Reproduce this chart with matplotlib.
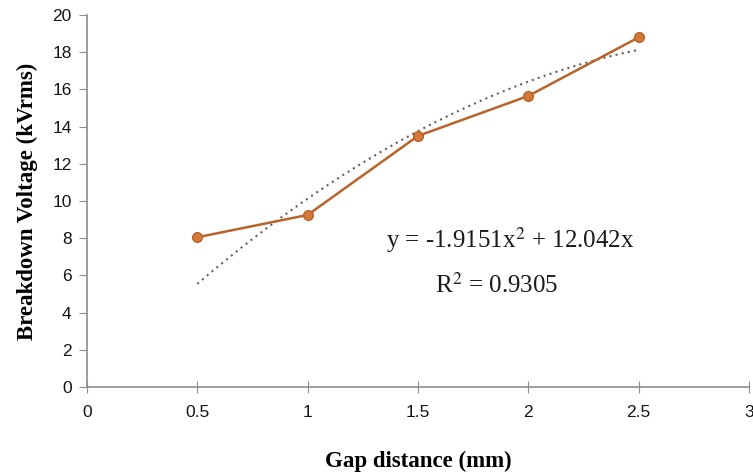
import matplotlib
matplotlib.use('Agg')
import matplotlib.pyplot as plt
import numpy as np

# data
gap_mm = [0.5, 1.0, 1.5, 2.0, 2.5]
breakdown_kv = [8.05, 9.25, 13.5, 15.65, 18.8]

# polynomial trendline shown on the chart (order 2, zero intercept)
trend_a = -1.9151
trend_b = 12.042
r_squared = 0.9305

LINE_COLOR = '#b8632a'
MARKER_FACE = '#d2793a'
AXIS_GRAY = '#8c8c8c'
TICK_FONT = 'Liberation Sans'
LABEL_FONT = 'Liberation Serif'

fig = plt.figure(figsize=(7.53, 4.73), dpi=100)
ax = fig.add_axes([0.1155, 0.182, 0.879, 0.786])

ax.plot(gap_mm, breakdown_kv, color=LINE_COLOR, lw=1.8, marker='o', ms=7,
        markerfacecolor=MARKER_FACE, markeredgecolor=LINE_COLOR, markeredgewidth=1.0,
        zorder=3)

xt = np.linspace(gap_mm[0], gap_mm[-1], 200)
ax.plot(xt, trend_a * xt**2 + trend_b * xt, color='#6e5e58', lw=1.5,
        linestyle=(0, (1, 2)), zorder=2)

ax.set_xlim(0, 3)
ax.set_ylim(0, 20)
ax.set_xticks(np.arange(0, 3.01, 0.5))
ax.set_xticklabels(['0', '0.5', '1', '1.5', '2', '2.5', '3'])
ax.set_yticks(np.arange(0, 21, 2))

for s in ['top', 'right']:
    ax.spines[s].set_visible(False)
for s in ['left', 'bottom']:
    ax.spines[s].set_color(AXIS_GRAY)
    ax.spines[s].set_linewidth(1.2)

ax.tick_params(axis='y', direction='out', length=6, color=AXIS_GRAY, pad=5,
               labelsize=12.5, labelcolor='#151515')
ax.tick_params(axis='x', direction='inout', length=8, color=AXIS_GRAY, pad=9,
               labelsize=12.5, labelcolor='#151515')
for lab in ax.get_xticklabels() + ax.get_yticklabels():
    lab.set_fontfamily(TICK_FONT)

ax.set_xlabel('Gap distance (mm)', fontsize=16.5, fontweight='bold',
              fontfamily=LABEL_FONT, labelpad=22)
ax.set_ylabel('Breakdown Voltage (kVrms)', fontsize=16.5, fontweight='bold',
              fontfamily=LABEL_FONT, labelpad=10)

ax.text(510 / 753, 1 - 240 / 473, 'y = -1.9151x$^{2}$ + 12.042x',
        transform=fig.transFigure, ha='center', va='center', fontsize=18,
        fontfamily=LABEL_FONT, math_fontfamily='stix', color='#1a1a1a')
ax.text(497 / 753, 1 - 285 / 473, f'R$^{{2}}$ = {r_squared}',
        transform=fig.transFigure, ha='center', va='center', fontsize=18,
        fontfamily=LABEL_FONT, math_fontfamily='stix', color='#1a1a1a')

plt.savefig('out.png', dpi=100, facecolor='white')
plt.close()
